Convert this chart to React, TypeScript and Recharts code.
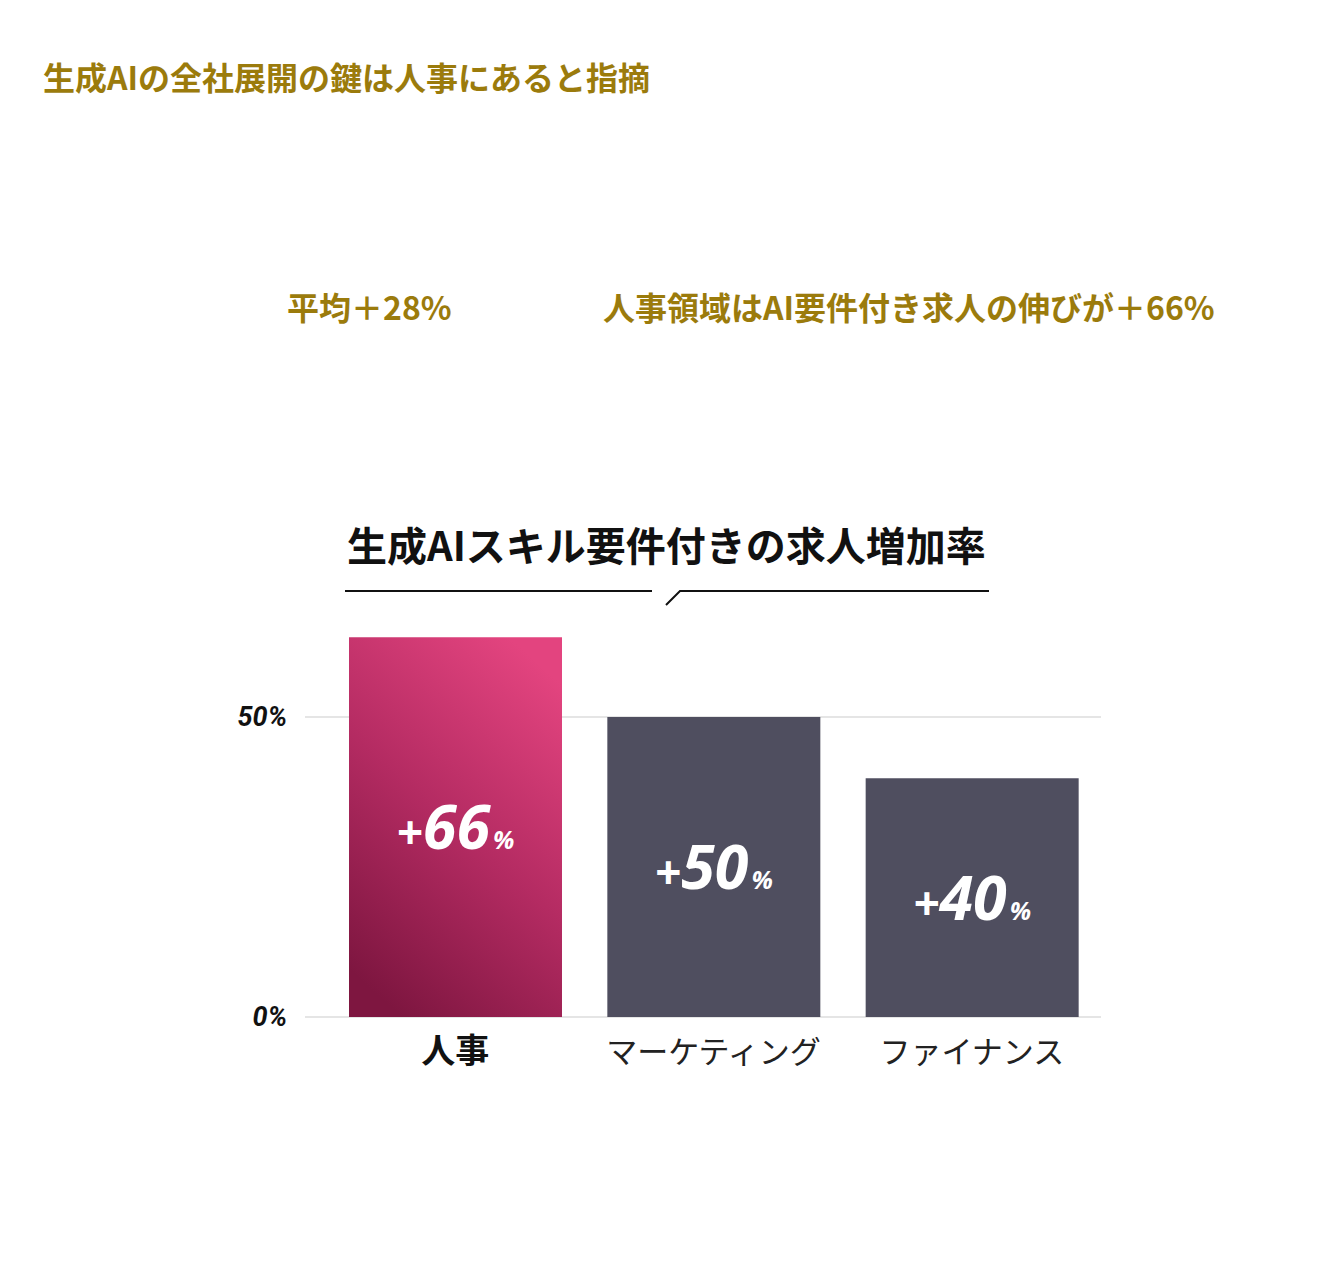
import React from "react";
import { BarChart, Bar, XAxis, YAxis, CartesianGrid, Cell, LabelList } from "recharts";

const categories = ["人事", "マーケティング", "ファイナンス"];
const barValues = [63.3, 50, 39.8];
const growthLabels = ["+66", "+50", "+40"];
const yTicks = [0, 50];
const headline = "生成AIの全社展開の鍵は人事にあると指摘";
const noteLeft = "平均＋28%";
const noteRight = "人事領域はAI要件付き求人の伸びが＋66%";
const chartTitle = "生成AIスキル要件付きの求人増加率";

const data = categories.map((c, i) => ({ name: c, value: barValues[i], label: growthLabels[i] }));

const GOLD = "#9b7b0c";
const JP = "'Noto Sans CJK JP', 'Noto Sans', sans-serif";

const XTick = (props: any) => {
  const { x, y, payload } = props;
  const bold = payload.index === 0;
  return (
    <text
      x={x}
      y={y}
      dy={46}
      textAnchor="middle"
      fontFamily={JP}
      fontSize={bold ? 34 : 31}
      fontWeight={bold ? 700 : 400}
      fill={bold ? "#111" : "#222"}
    >
      {payload.value}
    </text>
  );
};

const YTick = (props: any) => {
  const { x, y, payload } = props;
  return (
    <text
      x={x}
      y={y}
      dy={9}
      textAnchor="end"
      fontFamily="Roboto, sans-serif"
      fontSize={27}
      fontWeight={700}
      fontStyle="italic"
      fill="#111"
    >
      {payload.value}%
    </text>
  );
};

const BarLabel = (props: any) => {
  const { x, y, width, height, index } = props;
  const cx = x + width / 2;
  const cy = y + height / 2;
  return (
    <text
      x={cx}
      y={cy + 22}
      textAnchor="middle"
      fontFamily="'Open Sans', sans-serif"
      fontWeight={700}
      fontStyle="italic"
      fill="#ffffff"
    >
      <tspan fontSize={46}>{growthLabels[index].slice(0, 1)}</tspan>
      <tspan fontSize={61}>{growthLabels[index].slice(1)}</tspan>
      <tspan fontSize={25} dx={3}>%</tspan>
    </text>
  );
};

export default function App() {
  return (
    <div style={{ position: "absolute", left: 0, top: 0, width: 1334, height: 1261, overflow: "hidden", background: "#fff" }}>
      <div style={{ position: "absolute", left: 0, top: 0 }}>
        <BarChart
          width={1334}
          height={1261}
          data={data}
          margin={{ top: 597, right: 233, bottom: 184, left: 245 }}
        >
          <defs>
            <linearGradient id="hrGrad" x1="0.75" y1="0" x2="0.25" y2="1">
              <stop offset="0%" stopColor="#e3447f" />
              <stop offset="50%" stopColor="#b42b62" />
              <stop offset="100%" stopColor="#7e1640" />
            </linearGradient>
          </defs>
          <CartesianGrid vertical={false} stroke="#dddddd" strokeWidth={1.5} horizontalValues={yTicks} />
          <XAxis
            dataKey="name"
            axisLine={false}
            tickLine={false}
            tickSize={0}
            tickMargin={0}
            height={60}
            padding={{ left: 21, right: 0 }}
            tick={<XTick />}
            interval={0}
          />
          <YAxis
            width={60}
            domain={[0, 70]}
            ticks={yTicks}
            axisLine={false}
            tickLine={false}
            tickSize={0}
            tickMargin={18}
            tick={<YTick />}
          />
          <Bar dataKey="value" barSize={213} isAnimationActive={false}>
            {data.map((d, i) => (
              <Cell key={d.name} fill={i === 0 ? "url(#hrGrad)" : "#4f4e5f"} />
            ))}
            <LabelList dataKey="label" content={<BarLabel />} />
          </Bar>
        </BarChart>
      </div>
      <svg
        width={1334}
        height={1261}
        style={{ position: "absolute", left: 0, top: 0, pointerEvents: "none" }}
      >
        <text x={43} y={90} fontFamily={JP} fontSize={32} fontWeight={700} fill={GOLD}>
          {headline}
        </text>
        <text x={287} y={320} fontFamily={JP} fontSize={32} fontWeight={700} fill={GOLD}>
          {noteLeft}
        </text>
        <text x={603} y={320} fontFamily={JP} fontSize={32} fontWeight={700} fill={GOLD}>
          {noteRight}
        </text>
        <text x={347} y={561} fontFamily={JP} fontSize={40} fontWeight={700} fill="#111">
          {chartTitle}
        </text>
        <path d="M345 591 H652 M666 605 L680 591 H989" fill="none" stroke="#111" strokeWidth={2} />
      </svg>
    </div>
  );
}
